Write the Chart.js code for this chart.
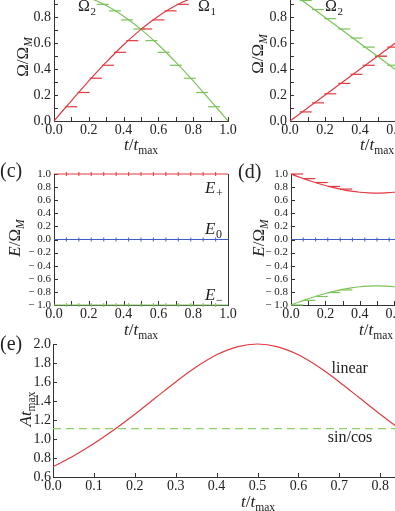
<!DOCTYPE html>
<html>
<head>
<meta charset="utf-8">
<script src="https://cdn.jsdelivr.net/npm/chart.js@4.4.1/dist/chart.umd.min.js"></script>
<style>
html, body { margin: 0; padding: 0; background: #fff; overflow: hidden; }
#fig { position: relative; width: 395px; height: 511px; overflow: hidden; }
canvas { position: absolute; }
.t { position: absolute; font-family: "Liberation Serif", serif; color: #222; white-space: nowrap; line-height: 1; transform: translate(-50%, -50%); }
.r { transform: translate(-50%, -50%) rotate(-90deg); }
.s { font-size: 0.68em; position: relative; top: 0.35em; }
.p { position: absolute; font-family: "Liberation Serif", serif; font-size: 20px; color: #222; line-height: 1; }
</style>
</head>
<body>
<div id="fig">
<canvas id="pa" width="240" height="170" style="left:0;top:-20px"></canvas>
<canvas id="pb" width="260" height="170" style="left:230px;top:-20px"></canvas>
<canvas id="pc" width="240" height="190" style="left:0;top:150px"></canvas>
<canvas id="pd" width="260" height="190" style="left:230px;top:150px"></canvas>
<canvas id="pe" width="480" height="181" style="left:0;top:330px"></canvas>

<div class="t r" style="left:22px;top:57px;font-size:17px">Ω/Ω<span class="s"><i>M</i></span></div>
<div class="t r" style="left:257px;top:54px;font-size:17px">Ω/Ω<span class="s"><i>M</i></span></div>
<div class="t r" style="left:14px;top:238px;font-size:17px"><i>E</i>/Ω<span class="s"><i>M</i></span></div>
<div class="t r" style="left:258px;top:238px;font-size:17px"><i>E</i>/Ω<span class="s"><i>M</i></span></div>
<div class="t r" style="left:25px;top:409px;font-size:17px"><i>A</i><i>t</i><span class="s">max</span></div>

<div class="t" style="left:141px;top:144px;font-size:17px"><i>t</i>/<i>t</i><span class="s">max</span></div>
<div class="t" style="left:377px;top:144px;font-size:17px"><i>t</i>/<i>t</i><span class="s">max</span></div>
<div class="t" style="left:141px;top:329px;font-size:17px"><i>t</i>/<i>t</i><span class="s">max</span></div>
<div class="t" style="left:376px;top:329px;font-size:17px"><i>t</i>/<i>t</i><span class="s">max</span></div>
<div class="t" style="left:258px;top:501px;font-size:17px"><i>t</i>/<i>t</i><span class="s">max</span></div>

<div class="p" style="left:0;top:160px">(c)</div>
<div class="p" style="left:238px;top:161px">(d)</div>
<div class="p" style="left:0;top:333px">(e)</div>
</div>

<script>
// time grid (t / t_max) for smooth curves
const tGrid = [0, 0.05, 0.1, 0.15, 0.2, 0.25, 0.3, 0.35, 0.4, 0.45, 0.5,
               0.55, 0.6, 0.65, 0.7, 0.75, 0.8, 0.85, 0.9, 0.95, 1];
const tEnds = [0, 1];

// (a) sin / cos pulses
const omega1Sin = [0, 0.079, 0.156, 0.233, 0.309, 0.383, 0.454, 0.523, 0.588, 0.649, 0.707,
                   0.760, 0.809, 0.853, 0.891, 0.924, 0.951, 0.972, 0.988, 0.997, 1];
const omega2Cos = [1, 0.997, 0.988, 0.972, 0.951, 0.924, 0.891, 0.853, 0.809, 0.760, 0.707,
                   0.649, 0.588, 0.523, 0.454, 0.383, 0.309, 0.233, 0.156, 0.079, 0];
const aRedDashT = [0.10, 0.17, 0.24, 0.31, 0.38, 0.45, 0.53, 0.60, 0.67, 0.74, 0.81];
const aRedDashV = [0.11, 0.22, 0.33, 0.43, 0.53, 0.62, 0.71, 0.78, 0.85, 0.90, 0.94];
const aGreenDashT = [0.92, 0.85, 0.78, 0.70, 0.63, 0.56, 0.49, 0.42, 0.35, 0.28, 0.20];
const aGreenDashV = [0.11, 0.22, 0.33, 0.43, 0.53, 0.62, 0.71, 0.78, 0.85, 0.90, 0.94];

// (b) linear pulses
const omega1Lin = [0, 1];
const omega2Lin = [1, 0];
const bDashT = [0.09, 0.16, 0.23, 0.31, 0.38, 0.45, 0.52, 0.59, 0.66];
const bRedDashV = [0.07, 0.14, 0.21, 0.29, 0.36, 0.43, 0.50, 0.57, 0.64];
const bGreenDashV = [0.93, 0.86, 0.79, 0.71, 0.64, 0.57, 0.50, 0.43, 0.36];

// (c) eigenvalues, sin/cos
const ePlusC = [1, 1];
const eZeroC = [0, 0];
const eMinusC = [-1, -1];
const stepT = [0.071, 0.143, 0.214, 0.286, 0.357, 0.429, 0.5, 0.571, 0.643, 0.714, 0.786, 0.857, 0.929];

// (d) eigenvalues, linear
const ePlusD = [1, 0.951, 0.906, 0.863, 0.825, 0.791, 0.762, 0.738, 0.721, 0.711, 0.707,
                0.711, 0.721, 0.738, 0.762, 0.791, 0.825, 0.863, 0.906, 0.951, 1];
const eMinusD = [-1, -0.951, -0.906, -0.863, -0.825, -0.791, -0.762, -0.738, -0.721, -0.711, -0.707,
                 -0.711, -0.721, -0.738, -0.762, -0.791, -0.825, -0.863, -0.906, -0.951, -1];
const dDashT = [0.036, 0.107, 0.179, 0.25, 0.321];
const dPlusDashV = [1.0, 0.93, 0.87, 0.81, 0.77];
const dMinusDashV = [-1.0, -0.93, -0.87, -0.81, -0.77];

// (e) adiabaticity
const aLinear = [0.707, 0.821, 0.952, 1.100, 1.261, 1.431, 1.601, 1.757, 1.886, 1.970, 2.000,
                 1.970, 1.886, 1.757, 1.601, 1.431, 1.261, 1.100, 0.952, 0.821, 0.707];
const aSinCos = [1.11, 1.11];

const RED = '#e23a41';
const GREEN = '#7cc35a';
const BLUE = '#3f5fc0';
const FONT = 'Liberation Serif';

const pts = (xs, ys) => xs.map((x, i) => ({x: x, y: ys[i]}));

function curve(data, color, extra) {
  return Object.assign({
    data: data, borderColor: color, borderWidth: 1.2, pointRadius: 0,
    fill: false, tension: 0.4, cubicInterpolationMode: 'monotone', clip: false
  }, extra || {});
}
function dashes(data, color, r) {
  return {
    data: data, showLine: false, pointStyle: 'line', pointRadius: r,
    pointBorderColor: color, borderColor: color, pointBorderWidth: 1.2, clip: false
  };
}
function vticks(data, color) {
  return {
    data: data, showLine: false, pointStyle: 'line', pointRotation: 90, pointRadius: 2,
    pointBorderColor: color, borderColor: color, pointBorderWidth: 1, clip: false
  };
}

const fmt = v => {
  const a = Math.abs(v).toFixed(1);
  return v < -1e-9 ? '\u2212 ' + a : a;
};

function axis(min, max, step, size, pad, fit) {
  return {
    type: 'linear', min: min, max: max,
    ticks: {
      stepSize: step, autoSkip: false, maxRotation: 0, padding: pad,
      font: {family: FONT, size: size}, color: '#222', callback: fmt
    },
    grid: {drawOnChartArea: false, drawTicks: false},
    border: {color: '#333', width: 1},
    afterFit: fit
  };
}

// inward ticks, right frame and curve labels
const extras = {
  id: 'extras',
  beforeDatasetsDraw(chart, args, o) {
    const {ctx, chartArea: a, scales: {x, y}} = chart;
    ctx.save();
    ctx.strokeStyle = '#333';
    ctx.lineWidth = 1;
    ctx.beginPath();
    for (let v = x.min; v <= x.max + 1e-9; v += o.stepX) {
      const px = Math.round(x.getPixelForValue(v)) + 0.5;
      ctx.moveTo(px, a.bottom);
      ctx.lineTo(px, a.bottom - 4);
    }
    for (let v = y.min; v <= y.max + 1e-9; v += o.stepY) {
      const py = Math.round(y.getPixelForValue(v)) + 0.5;
      ctx.moveTo(a.left, py);
      ctx.lineTo(a.left + 4, py);
    }
    if (o.frameRight) {
      ctx.moveTo(Math.round(a.right) + 0.5, a.top);
      ctx.lineTo(Math.round(a.right) + 0.5, a.bottom);
    }
    ctx.stroke();
    ctx.restore();
  },
  afterDraw(chart, args, o) {
    const {ctx, scales: {x, y}} = chart;
    ctx.save();
    ctx.fillStyle = '#222';
    ctx.textBaseline = 'alphabetic';
    (o.labels || []).forEach(l => {
      const px = x.getPixelForValue(l.x);
      const py = y.getPixelForValue(l.y);
      ctx.font = (l.italic ? 'italic ' : '') + l.size + 'px "' + FONT + '"';
      ctx.fillText(l.text, px, py);
      if (l.sub) {
        const w = ctx.measureText(l.text).width;
        ctx.font = Math.round(l.size * 0.68) + 'px "' + FONT + '"';
        ctx.fillText(l.sub, px + w + 0.5, py + l.size * 0.25);
      }
    });
    ctx.restore();
  }
};

function panel(id, datasets, sc, pad, ex) {
  return new Chart(document.getElementById(id), {
    type: 'line',
    data: {datasets: datasets},
    options: {
      responsive: false,
      animation: false,
      devicePixelRatio: 1,
      layout: {padding: pad},
      plugins: {legend: {display: false}, tooltip: {enabled: false}, extras: ex},
      scales: sc
    },
    plugins: [extras]
  });
}

// (a)
panel('pa', [
  curve(pts(tGrid, omega1Sin), RED),
  curve(pts(tGrid, omega2Cos), GREEN),
  dashes(pts(aRedDashT, aRedDashV), RED, 6),
  dashes(pts(aGreenDashT, aGreenDashV), GREEN, 6)
], {
  x: axis(0, 1, 0.2, 14, 1, s => { s.height = 29; }),
  y: axis(0, 1, 0.2, 14, 3, s => { s.width = 54; })
}, {left: 0, right: 12, top: 11, bottom: 0}, {
  stepX: 0.1, stepY: 0.1,
  labels: [
    {x: 0.138, y: 0.845, text: 'Ω', sub: '2', size: 16},
    {x: 0.828, y: 0.845, text: 'Ω', sub: '1', size: 16}
  ]
});

// (b)
panel('pb', [
  curve(pts(tEnds, omega1Lin), RED, {tension: 0}),
  curve(pts(tEnds, omega2Lin), GREEN, {tension: 0}),
  dashes(pts(bDashT, bRedDashV), RED, 6),
  dashes(pts(bDashT, bGreenDashV), GREEN, 6)
], {
  x: axis(0, 1, 0.2, 14, 1, s => { s.height = 29; }),
  y: axis(0, 1, 0.2, 14, 3, s => { s.width = 60; })
}, {left: 0, right: 25, top: 11, bottom: 0}, {
  stepX: 0.1, stepY: 0.1,
  labels: [{x: 0.20, y: 0.85, text: 'Ω', sub: '2', size: 16}]
});

// (c)
panel('pc', [
  curve(pts(tEnds, ePlusC), RED, {tension: 0}),
  curve(pts(tEnds, eZeroC), BLUE, {tension: 0}),
  curve(pts(tEnds, eMinusC), GREEN, {tension: 0}),
  vticks(stepT.map(t => ({x: t, y: 1})), RED),
  vticks(stepT.map(t => ({x: t, y: 0})), BLUE),
  vticks(stepT.map(t => ({x: t, y: -1})), GREEN)
], {
  x: axis(0, 1, 0.2, 14, 1, s => { s.height = 35; }),
  y: axis(-1, 1, 0.2, 11, 3, s => { s.width = 54; })
}, {left: 0, right: 12, top: 24, bottom: 0}, {
  stepX: 0.1, stepY: 0.2, frameRight: true,
  labels: [
    {x: 0.868, y: 0.71, text: 'E', sub: '+', size: 17, italic: true},
    {x: 0.868, y: 0.084, text: 'E', sub: '0', size: 17, italic: true},
    {x: 0.868, y: -0.924, text: 'E', sub: '\u2212', size: 17, italic: true}
  ]
});

// (d)
panel('pd', [
  curve(pts(tGrid, ePlusD), RED),
  curve(pts(tEnds, eZeroC), BLUE, {tension: 0}),
  curve(pts(tGrid, eMinusD), GREEN),
  dashes(pts(dDashT, dPlusDashV), RED, 6),
  dashes(pts(dDashT, dMinusDashV), GREEN, 6),
  vticks(stepT.map(t => ({x: t, y: 0})), BLUE)
], {
  x: axis(0, 1, 0.2, 14, 1, s => { s.height = 35; }),
  y: axis(-1, 1, 0.2, 11, 3, s => { s.width = 61; })
}, {left: 0, right: 27, top: 24, bottom: 0}, {
  stepX: 0.1, stepY: 0.2, frameRight: true
});

// (e)
panel('pe', [
  curve(pts(tGrid, aLinear), RED),
  curve(pts(tEnds, aSinCos), '#8fd06c', {tension: 0, borderDash: [8, 5]})
], {
  x: axis(0, 1, 0.1, 14, 1, s => { s.height = 34; }),
  y: axis(0.6, 2.0, 0.2, 14, 2, s => { s.width = 53; })
}, {left: 0, right: 18, top: 14, bottom: 0}, {
  stepX: 0.1, stepY: 0.2,
  labels: [
    {x: 0.681, y: 1.694, text: 'linear', size: 16},
    {x: 0.672, y: 0.969, text: 'sin/cos', size: 16}
  ]
});
</script>
</body>
</html>
